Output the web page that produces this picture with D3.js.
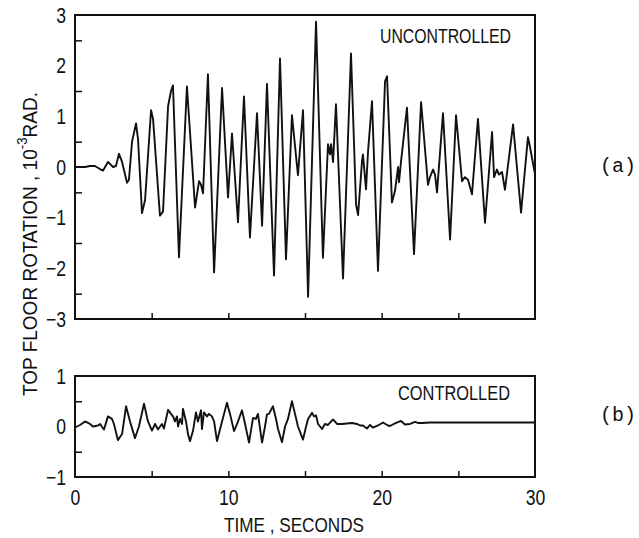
<!DOCTYPE html>
<html>
<head>
<meta charset="utf-8">
<script src="https://cdn.jsdelivr.net/npm/d3@7"></script>
<style>
  body { margin: 0; background: #fff; }
  text { font-family: "Liberation Sans", Arial, sans-serif; fill: #111; }
</style>
</head>
<body>
<svg id="chart" width="639" height="538"></svg>
<script>
// time (s) and rotation (10^-3 rad)
var uncontrolledTime = [0, 0.65, 0.98, 1.30, 1.63, 1.83, 2.15, 2.48, 2.67, 2.87, 3.07, 3.39, 3.52, 3.72, 3.98, 4.11,
  4.37, 4.57, 4.96, 5.09, 5.54, 5.74, 6.07, 6.26, 6.39, 6.78, 7.30, 7.83, 8.09, 8.22, 8.35, 8.67, 9.07, 9.59,
  9.98, 10.24, 10.63, 11.02, 11.41, 11.87, 12.20, 12.52, 12.98, 13.37, 13.76, 14.15, 14.54, 14.87, 15.20, 15.72,
  16.17, 16.50, 16.63, 16.70, 16.83, 17.02, 17.48, 18.00, 18.33, 18.46, 18.72, 18.78, 18.98, 19.11, 19.37, 19.76,
  20.22, 20.35, 20.67, 20.87, 21.07, 21.13, 21.26, 21.65, 22.11, 22.57, 23.02, 23.15, 23.35, 23.48, 23.61, 24.00,
  24.46, 24.85, 25.24, 25.43, 25.63, 25.89, 26.28, 26.74, 27.20, 27.33, 27.52, 27.65, 27.85, 28.04, 28.57, 29.09,
  29.54, 29.67, 30.0];
var uncontrolledValue = [0, 0, 0.02, 0.02, -0.04, -0.07, 0.1, 0.0, 0.02, 0.26, 0.1, -0.31, -0.25, 0.5, 0.86, 0.55,
  -0.91, -0.65, 1.12, 0.95, -0.96, -0.88, 1.2, 1.5, 1.61, -1.78, 1.59, -0.8, -0.28, -0.35, -0.52, 1.83, -2.08, 1.56,
  -0.6, 0.66, -1.09, 1.39, -1.39, 1.06, -1.16, 1.64, -2.14, 2.14, -1.82, 1.02, -0.16, 1.12, -2.56, 2.87,
  -1.79, 0.45, 0.25, 0.45, 0.1, 1.24, -2.2, 2.24, -0.74, -0.95, 0.12, 0.25, -0.44, 0.3, 1.3, -2.05,
  1.69, 1.79, -0.7, -0.47, 0.0, -0.3, 0.1, 1.17, -1.72, 1.28, -0.35, -0.2, -0.05, -0.15, -0.5, 1.06,
  -1.43, 1.02, -0.28, -0.2, -0.25, -0.54, 0.95, -1.1, 0.69, -0.2, -0.05, -0.15, -0.1, -0.45, 0.84, -0.9,
  0.59, 0.4, -0.14];

var controlledTime = [0, 0.33, 0.65, 0.98, 1.17, 1.50, 1.63, 1.89, 2.15, 2.41, 2.54, 2.80, 3.07, 3.33, 3.59, 3.91,
  4.17, 4.50, 4.76, 5.02, 5.22, 5.41, 5.67, 5.80, 6.07, 6.26, 6.39, 6.52, 6.65, 6.72, 6.85, 6.98, 7.04, 7.24, 7.37,
  7.50, 7.70, 7.89, 8.02, 8.22, 8.28, 8.41, 8.61, 8.74, 8.93, 9.07, 9.26, 9.59, 9.91, 10.11, 10.37, 10.57, 10.89,
  11.02, 11.35, 11.61, 11.80, 11.93, 12.20, 12.39, 12.52, 12.65, 12.91, 13.11, 13.24, 13.50, 13.70, 13.89, 14.15,
  14.35, 14.54, 14.87, 15.07, 15.20, 15.46, 15.59, 15.72, 15.85, 16.11, 16.30, 16.50, 16.83, 17.09, 17.41, 17.74,
  18.07, 18.39, 18.59, 18.78, 19.04, 19.24, 19.43, 19.76, 20.09, 20.41, 20.54, 20.87, 21.26, 21.52, 21.85, 22.17,
  22.37, 22.63, 23.15, 30.0];
var controlledValue = [-0.02, 0.03, 0.1, 0.05, 0.0, 0.02, 0.05, -0.06, 0.2, 0.15, 0.05, -0.27, -0.15, 0.4, 0.1, -0.23,
  0.0, 0.45, 0.1, -0.08, 0.05, -0.06, 0.05, -0.04, 0.33, 0.25, 0.2, 0.1, 0.2, 0.0, 0.15, 0.05, 0.35, 0.1, -0.15,
  -0.29, -0.08, 0.28, 0.1, 0.32, -0.05, 0.28, 0.2, 0.25, 0.2, 0.1, -0.29, 0.1, 0.47, 0.25, -0.09, 0.05, 0.32,
  0.15, -0.32, 0.17, 0.15, 0.25, -0.32, 0.0, 0.24, 0.25, 0.4, 0.15, -0.05, -0.31, 0.0, 0.15, 0.5,
  0.25, 0.0, -0.26, 0.0, 0.15, 0.27, 0.2, 0.22, 0.05, -0.05, 0.05, 0.03, 0.14, 0.05, 0.05, 0.06,
  0.07, 0.05, 0.02, 0.02, -0.04, 0.03, -0.02, 0.02, 0.08, 0.02, 0.01, 0.06, 0.11, 0.04, 0.05, 0.09,
  0.07, 0.07, 0.08, 0.08];

var xTicks = [0, 10, 20, 30];
var xMinorTicks = [5, 10, 15, 20, 25];
var topTicks = [-3, -2, -1, 0, 1, 2, 3];
var topMinorTicks = [-2.5, -1.5, -0.5, 0.5, 1.5, 2.5];
var bottomTicks = [-1, 0, 1];
var bottomMinorTicks = [-0.5, 0.5];

var svg = d3.select("#chart");
var narrow = 0.8;   // squeeze glyphs like the plotter font

// shared x scale
var x = d3.scaleLinear().domain([0, 30]).range([75, 535]);

// two panels
var yTop = d3.scaleLinear().domain([-3, 3]).range([319, 15]);
var yBot = d3.scaleLinear().domain([-1, 1]).range([477, 376]);

function drawPanel(y, ticks, minor, times, values, label, labelStart, labelEnd, labelY) {
  var y0 = y.range()[1], y1 = y.range()[0];

  // minor ticks on left edge, pointing inward
  svg.append("g")
    .attr("transform", "translate(" + x(0) + ",0)")
    .call(d3.axisLeft(y).tickValues(minor).tickSize(-7).tickFormat(""))
    .call(function(g){ g.select(".domain").remove(); })
    .selectAll("line").attr("stroke", "#111").attr("stroke-width", 1.5);

  // tick labels
  svg.append("g")
    .attr("transform", "translate(" + x(0) + ",0)")
    .call(d3.axisLeft(y).tickValues(ticks).tickSize(0).tickPadding(0).tickFormat(d3.format("d")))
    .call(function(g){ g.select(".domain").remove(); })
    .selectAll("text")
    .attr("x", -9 / narrow)
    .attr("transform", "scale(" + narrow + ",1)")
    .style("font-size", "22px");

  // x ticks on bottom edge, pointing up
  svg.append("g")
    .attr("transform", "translate(0," + y1 + ")")
    .call(d3.axisBottom(x).tickValues(xMinorTicks).tickSize(-6).tickFormat(""))
    .call(function(g){ g.select(".domain").remove(); })
    .selectAll("line").attr("stroke", "#111").attr("stroke-width", 1.5);

  // data line
  var line = d3.line()
    .x(function(d, i){ return x(times[i]); })
    .y(function(d){ return y(d); });
  svg.append("path")
    .datum(values)
    .attr("d", line)
    .attr("fill", "none")
    .attr("stroke", "#111")
    .attr("stroke-width", 1.9)
    .attr("stroke-linejoin", "round");

  // frame
  svg.append("rect")
    .attr("x", x(0)).attr("y", y0)
    .attr("width", x(30) - x(0)).attr("height", y1 - y0)
    .attr("fill", "none").attr("stroke", "#111").attr("stroke-width", 2);

  // panel title
  svg.append("text")
    .attr("x", labelStart).attr("y", labelY)
    .attr("textLength", labelEnd - labelStart)
    .attr("lengthAdjust", "spacingAndGlyphs")
    .style("font-size", "21px")
    .text(label);
}

drawPanel(yTop, topTicks, topMinorTicks, uncontrolledTime, uncontrolledValue, "UNCONTROLLED", 380, 511, 43);
drawPanel(yBot, bottomTicks, bottomMinorTicks, controlledTime, controlledValue, "CONTROLLED", 398, 510, 400);

// x tick labels under bottom panel
svg.append("g")
  .attr("transform", "translate(0,477)")
  .call(d3.axisBottom(x).tickValues(xTicks).tickSize(0).tickPadding(12).tickFormat(d3.format("d")))
  .call(function(g){ g.select(".domain").remove(); })
  .selectAll("text")
  .attr("x", function(){ return 0; })
  .attr("transform", "scale(" + narrow + ",1)")
  .style("font-size", "22px");

// x axis title
svg.append("text")
  .attr("x", 224).attr("y", 532)
  .attr("textLength", 140)
  .attr("lengthAdjust", "spacingAndGlyphs")
  .style("font-size", "20px")
  .text("TIME , SECONDS");

// y axis title (rotated)
var yt = svg.append("text")
  .attr("transform", "translate(37,396) rotate(-90)")
  .attr("textLength", 304)
  .attr("lengthAdjust", "spacingAndGlyphs")
  .style("font-size", "20px");
yt.append("tspan").text("TOP  FLOOR  ROTATION , 10");
yt.append("tspan").attr("dy", -10).style("font-size", "14px").text("-3");
yt.append("tspan").attr("dy", 10).text("RAD.");

// panel letters
svg.append("text")
  .attr("x", 600).attr("y", 172)
  .style("font-family", "'Liberation Mono', 'DejaVu Sans Mono', monospace")
  .style("font-size", "20px")
  .text("(a)");
svg.append("text")
  .attr("x", 600).attr("y", 421)
  .style("font-family", "'Liberation Mono', 'DejaVu Sans Mono', monospace")
  .style("font-size", "20px")
  .text("(b)");
</script>
</body>
</html>
